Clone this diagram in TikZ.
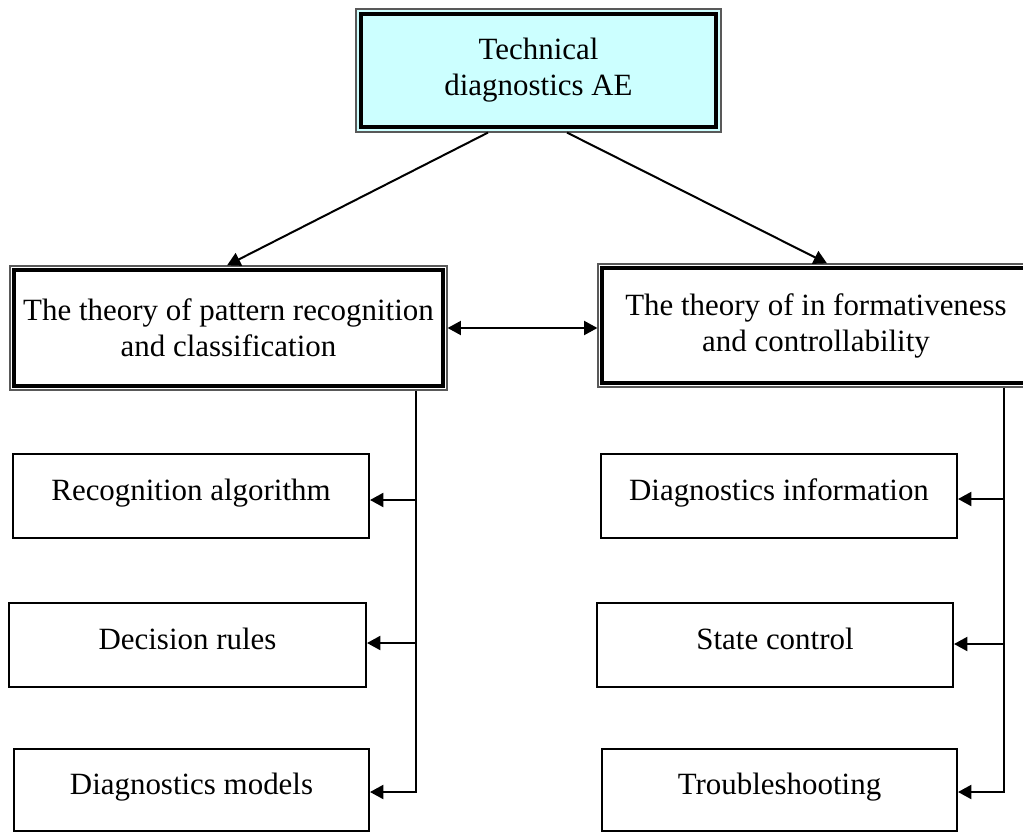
\documentclass[tikz,border=0pt]{standalone}
\usepackage{fontspec}
\setmainfont{Liberation Serif}
\usetikzlibrary{arrows.meta,calc}
\definecolor{topfill}{RGB}{204,255,255}
\begin{document}
\begin{tikzpicture}[x=0.75pt,y=-0.75pt,
  txtfont/.style={font=\fontsize{23.2}{27}\selectfont},
  smallbox/.style={draw, line width=1.5pt, minimum width=267pt, minimum height=63pt,
    inner sep=0pt, text height=16pt, text depth=10pt, txtfont},
  bigbox/.style={draw=black!65, line width=0.9pt, inner sep=0pt, align=center, txtfont},
  thickline/.style={line width=3pt},
  tip/.tip={Triangle[length=10pt,width=10.5pt]},
  arr/.style={line width=1.5pt, -tip},
  arrb/.style={line width=1.5pt, tip-tip}]
\useasboundingbox (0,0) rectangle (1023,832);

% top box
\node[bigbox, fill=topfill, minimum width=273.75pt, minimum height=92.25pt] (top) at (538.5,70.5) {Technical\\diagnostics AE};
\draw[line width=3.4pt] ($(top.north west)+(5.5,5.5)$) rectangle ($(top.south east)+(-5.5,-5.5)$);

% theory boxes
\node[bigbox, minimum width=327.75pt, minimum height=93pt] (lb) at (228.5,328) {The theory of pattern recognition\\and classification};
\draw[thickline] ($(lb.north west)+(5,5)$) rectangle ($(lb.south east)+(-5,-5)$);

\node[bigbox, minimum width=327pt, minimum height=92.25pt] (rb) at (816,325.5) {The theory of in formativeness\\and controllability};
\draw[thickline] ($(rb.north west)+(5,5)$) rectangle ($(rb.south east)+(-5,-5)$);

% small boxes
\node[smallbox] (ra) at (191,496) {Recognition algorithm};
\node[smallbox, minimum width=267.75pt] (dr) at (187.5,645) {Decision rules};
\node[smallbox, minimum width=266.25pt, minimum height=61.5pt] (dm) at (191.5,790) {Diagnostics models};
\node[smallbox] (di) at (779,496) {Diagnostics information};
\node[smallbox] (sc) at (775,645) {State control};
\node[smallbox, minimum width=266.25pt, minimum height=61.5pt] (ts) at (779.5,790) {Troubleshooting};

% arrows from top
\draw[arr] ([xshift=-37.9pt]top.south) -- ([xshift=-1.1pt]lb.north);
\draw[arr] ([xshift=21.4pt]top.south) -- ([xshift=8.25pt]rb.north);

% bidirectional
\draw[arrb] (lb.east) -- (lb.east -| rb.west);

% left tree
\coordinate (lv) at ([xshift=140.6pt]lb.south);
\draw[arr] (lv) |- ([yshift=-1.5pt]dm.east);
\draw[arr] (lv |- ra.east) ++(0,4) -- ([yshift=-3pt]ra.east);
\draw[arr] (lv |- dr.east) ++(0,-2) -- ([yshift=1.5pt]dr.east);

% right tree
\coordinate (rv) at ([xshift=141pt]rb.south);
\draw[arr] (rv) |- ([yshift=-1.5pt]ts.east);
\draw[arr] (rv |- di.east) ++(0,3) -- ([yshift=-2.25pt]di.east);
\draw[arr] (rv |- sc.east) ++(0,-1) -- ([yshift=0.75pt]sc.east);
\end{tikzpicture}
\end{document}
